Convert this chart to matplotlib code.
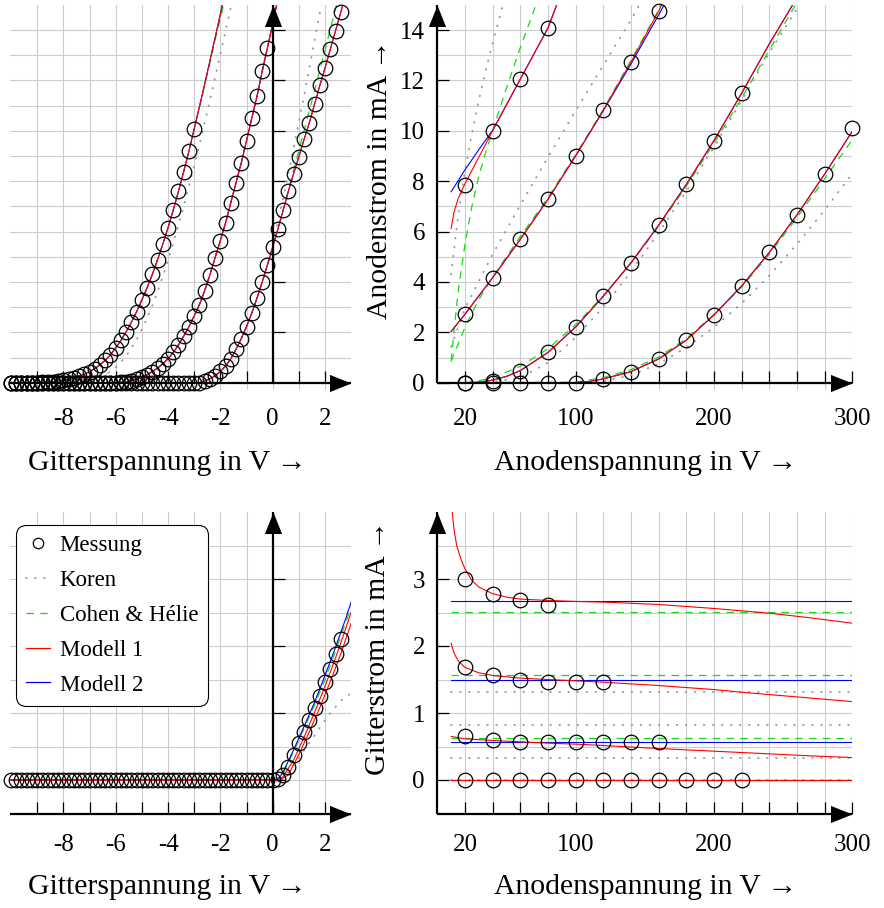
import numpy as np
import matplotlib
matplotlib.use("Agg")
import matplotlib.pyplot as plt
from matplotlib.path import Path
from matplotlib.lines import Line2D
from matplotlib.ticker import FixedLocator

plt.rcParams['font.family'] = ['Liberation Serif', 'DejaVu Serif']
plt.rcParams['axes.unicode_minus'] = False

# measurement steps
vg = np.round(np.arange(-10.0, 2.61, 0.2), 1)   # grid voltage, 64 steps
va = np.arange(20, 301, 20)                      # anode voltage, 15 steps

# ---- anode current over grid voltage (top left), three anode voltages
ia_vg1 = [0] * 6 + [0.01, 0.02, 0.04, 0.06, 0.09, 0.13, 0.19, 0.26, 0.34, 0.44,
                    0.56, 0.71, 0.89, 1.11, 1.38, 1.68, 2.02, 2.40, 2.82, 3.28,
                    3.77, 4.30, 4.88, 5.50, 6.15, 6.85, 7.60, 8.38, 9.20, 10.07]
ia_vg2 = [0] * 21 + [0.02, 0.04, 0.08, 0.14, 0.22, 0.32, 0.44, 0.58, 0.75, 0.95,
                     1.20, 1.50, 1.85, 2.23, 2.65, 3.10, 3.65, 4.28, 4.97, 5.64,
                     6.35, 7.15, 7.94, 8.73, 9.61, 10.50, 11.37, 12.37, 13.30]
ia_vg3 = [0] * 37 + [0.07, 0.16, 0.27, 0.45, 0.66, 0.95, 1.33, 1.75, 2.23, 2.76,
                     3.36, 4.00, 4.68, 5.38, 6.10, 6.85, 7.60, 8.30, 8.97, 9.66,
                     10.32, 11.06, 11.80, 12.50, 13.23, 13.97, 14.70]

# model curves beyond the last measured point
m1_tl1_ext_v, m1_tl1_ext_i = [-2.6, -2.2, -1.9], [11.85, 13.7, 15.1]
m1_tl2_ext_v, m1_tl2_ext_i = [0.0, 0.16], [14.25, 15.05]
m1_tl3_ext_v, m1_tl3_ext_i = [2.7], [15.07]
ch_tl1_ext_v, ch_tl1_ext_i = [-2.6, -2.2, -1.85], [11.8, 13.6, 15.1]
ch_tl3_ext_v = [0.8, 1.2, 1.6, 2.0, 2.4, 2.45]
ch_tl3_ext_i = [8.45, 10.0, 11.6, 13.2, 14.85, 15.05]
ko_tl1_v = [-10, -7.8, -7.2, -6.8, -6.4, -6.0, -5.6, -5.2, -4.8, -4.4, -4.0,
            -3.6, -3.2, -2.8, -2.4, -2.0, -1.6, -1.55]
ko_tl1_i = [0, 0, 0.05, 0.13, 0.3, 0.6, 1.05, 1.7, 2.55, 3.6, 4.85,
            6.25, 7.8, 9.45, 11.2, 13.05, 14.9, 15.1]
ko_tl3_ext_v = [0.0, 0.4, 0.8, 1.2, 1.6, 1.87]
ko_tl3_ext_i = [5.5, 7.3, 9.3, 11.4, 13.6, 15.05]

# ---- anode current over anode voltage (top right), four grid voltages
ia_a = [7.85, 10.0, 12.05, 14.1]
ia_b = [2.71, 4.17, 5.69, 7.28, 9.01, 10.82, 12.73, 14.75]
ia_c = [0.0, 0.08, 0.48, 1.2, 2.21, 3.43, 4.76, 6.25, 7.87, 9.61, 11.49]
ia_d = [0, 0, 0, 0, 0, 0.15, 0.44, 0.94, 1.69, 2.69, 3.84, 5.17, 6.66, 8.28, 10.1]

m1_a_v = [10, 12, 15, 20, 30, 40, 60, 80, 87]
m1_a_i = [6.13, 6.75, 7.3, 7.9, 8.95, 10.0, 12.05, 14.08, 15.1]
m2_a_v = [10, 20, 30, 40, 60, 80, 87]
m2_a_i = [7.58, 8.45, 9.25, 10.02, 12.05, 14.08, 15.1]
ch_a_v = [10, 12, 15, 20, 25, 30, 35, 40, 50, 60, 72]
ch_a_i = [0.87, 2.0, 3.6, 5.5, 7.0, 8.2, 9.15, 10.0, 11.7, 13.3, 15.1]
ko_a_v = [10, 15, 20, 25, 30, 35, 40, 45, 48]
ko_a_i = [4.3, 6.6, 8.4, 9.9, 11.2, 12.4, 13.5, 14.5, 15.1]

m1_b_v = [10, 20, 40, 60, 80, 100, 120, 140, 160, 163]
m1_b_i = [2.03, 2.72, 4.17, 5.69, 7.28, 9.01, 10.82, 12.73, 14.75, 15.08]
m2_b_v = [10, 20, 40, 60, 80, 100, 120, 140, 160, 165]
m2_b_i = [2.03, 2.72, 4.17, 5.69, 7.28, 9.0, 10.8, 12.65, 14.6, 15.1]
ch_b_v = [10, 20, 30, 40, 60, 80, 100, 120, 140, 160, 162]
ch_b_i = [0.85, 2.2, 3.3, 4.2, 5.8, 7.35, 9.05, 10.85, 12.8, 14.8, 15.05]
ko_b_v = [10, 20, 40, 60, 80, 100, 120, 140, 146]
ko_b_i = [1.43, 2.95, 5.1, 7.05, 8.95, 10.8, 12.6, 14.4, 15.0]

m1_c_v = [10, 20, 30, 40, 50, 60, 80, 100, 120, 140, 160, 180, 200, 220, 240, 258]
m1_c_i = [0, 0, 0.02, 0.1, 0.25, 0.48, 1.2, 2.21, 3.43, 4.76, 6.25, 7.87, 9.61, 11.49, 13.45, 15.1]
ch_c_v = [10, 25, 40, 60, 80, 100, 120, 140, 160, 180, 200, 220, 240, 260]
ch_c_i = [0, 0.02, 0.2, 0.65, 1.35, 2.3, 3.45, 4.75, 6.2, 7.8, 9.5, 11.3, 13.2, 15.1]
ko_c_v = [10, 40, 60, 80, 100, 120, 140, 160, 180, 200, 220, 240, 263]
ko_c_i = [0, 0.02, 0.2, 0.8, 1.8, 3.0, 4.4, 5.95, 7.6, 9.35, 11.2, 13.1, 15.1]

m1_d_v = [10, 100, 110, 120, 140, 160, 180, 200, 220, 240, 260, 280, 300]
m1_d_i = [0, 0, 0.05, 0.15, 0.44, 0.94, 1.69, 2.69, 3.84, 5.17, 6.66, 8.28, 9.98]
ch_d_v = [10, 100, 120, 140, 160, 180, 200, 220, 240, 260, 280, 300]
ch_d_i = [0, 0.02, 0.2, 0.52, 1.02, 1.75, 2.7, 3.8, 5.1, 6.55, 8.1, 9.65]
ko_d_v = [10, 100, 120, 140, 160, 180, 200, 220, 240, 260, 280, 300]
ko_d_i = [0, 0, 0.05, 0.3, 0.75, 1.4, 2.2, 3.15, 4.25, 5.5, 6.85, 8.3]

# ---- grid current over grid voltage (bottom left)
ig_vg = [0] * 51 + [0.02, 0.07, 0.2, 0.38, 0.55, 0.72, 0.9, 1.07, 1.26, 1.46, 1.66, 1.88, 2.1]
m2_bl_v = [-10, 0.2, 0.4, 0.8, 1.2, 1.6, 2.0, 2.4, 2.8, 3.0]
m2_bl_i = [0, 0, 0.12, 0.45, 0.8, 1.16, 1.56, 1.98, 2.42, 2.66]
ch_bl_v = [-10, 0.0, 0.2, 0.4, 0.8, 1.2, 1.6, 2.0, 2.4, 2.8, 3.0]
ch_bl_i = [0, 0, 0.03, 0.1, 0.42, 0.77, 1.12, 1.5, 1.92, 2.36, 2.59]
m1_bl1_v = [-10, 0.2, 0.4, 0.8, 1.2, 1.6, 2.0, 2.4, 2.8, 3.0]
m1_bl1_i = [0, 0, 0.05, 0.3, 0.64, 1.01, 1.4, 1.82, 2.27, 2.51]
m1_bl2_v = [-10, 0.3, 0.6, 1.0, 1.4, 1.8, 2.2, 2.6, 3.0]
m1_bl2_i = [0, 0, 0.08, 0.38, 0.72, 1.08, 1.47, 1.88, 2.34]
ko_bl_v = [-10, 0.3, 0.6, 1.0, 1.4, 1.8, 2.2, 2.6, 3.0]
ko_bl_i = [0, 0, 0.12, 0.33, 0.55, 0.78, 1.0, 1.18, 1.3]

# ---- grid current over anode voltage (bottom right)
ig_a = [3.0, 2.78, 2.68, 2.61]
ig_b = [1.69, 1.56, 1.49, 1.47, 1.46, 1.46]
ig_c = [0.66, 0.6, 0.57, 0.56, 0.56, 0.56, 0.56, 0.56]
ig_d = [0] * 11
m1_ga_v = [10.3, 12, 14, 17, 20, 25, 30, 40, 50, 60, 80, 100, 120, 160, 200, 240, 270, 300]
m1_ga_i = [4.1, 3.75, 3.5, 3.3, 3.15, 2.98, 2.88, 2.78, 2.73, 2.7, 2.68, 2.665, 2.655,
           2.62, 2.56, 2.49, 2.42, 2.34]
m1_gb_v = [10, 12, 15, 20, 30, 40, 60, 80, 100, 120, 160, 200, 220, 260, 300]
m1_gb_i = [2.04, 1.9, 1.78, 1.68, 1.6, 1.56, 1.52, 1.5, 1.48, 1.46, 1.41, 1.35, 1.31, 1.24, 1.17]
m1_gc_v = [10, 20, 40, 60, 80, 100, 120, 160, 200, 240, 270, 300]
m1_gc_i = [0.65, 0.615, 0.59, 0.57, 0.55, 0.535, 0.515, 0.47, 0.43, 0.39, 0.36, 0.335]
m2_levels = [2.67, 1.5, 0.56, 0.0]
ch_levels = [2.51, 1.565, 0.62, 0.0]
ko_levels = [1.32, 0.82, 0.33, 0.0]
va_line = [10, 300]

RED, BLUE, GREEN, GRAY = '#ff0000', '#0000ff', '#11dd11', '#999999'
red_kw = dict(color=RED, lw=0.8, zorder=2.4)
blue_kw = dict(color=BLUE, lw=0.8, zorder=2.3)
green_kw = dict(color=GREEN, lw=0.9, dashes=(6, 5), zorder=2.2)
gray_kw = dict(color=GRAY, lw=1.3, dashes=(0.4, 4.6), dash_capstyle='round', zorder=2.1)
circ_kw = dict(ls='none', marker='o', ms=10.5, mfc='none', mec='k', mew=0.9,
               clip_on=False, zorder=2.6)

ARROW_R = Path([(0, 0), (-1, 0.4), (-1, -0.4), (0, 0)],
               [Path.MOVETO, Path.LINETO, Path.LINETO, Path.CLOSEPOLY])
ARROW_U = Path([(0, 0), (-0.4, -1), (0.4, -1), (0, 0)],
               [Path.MOVETO, Path.LINETO, Path.LINETO, Path.CLOSEPOLY])

W, H = 884, 908
fig = plt.figure(figsize=(W / 100, H / 100), dpi=100)


def add_axes(left, top, right, bottom):
    return fig.add_axes([left / W, 1 - bottom / H, (right - left) / W, (bottom - top) / H])


def style(ax, xlim, ylim, x0, y0, xmajor, xminor, ymajor, yminor, xpad):
    ax.set_xlim(*xlim)
    ax.set_ylim(*ylim)
    for s in ('top', 'right'):
        ax.spines[s].set_visible(False)
    ax.spines['left'].set_position(('data', x0))
    ax.spines['bottom'].set_position(('data', y0))
    ax.spines['left'].set_bounds(y0, ylim[1])
    for s in ('left', 'bottom'):
        ax.spines[s].set_linewidth(1.6)
        ax.spines[s].set_capstyle('butt')
    ax.xaxis.set_major_locator(FixedLocator(xmajor))
    ax.xaxis.set_minor_locator(FixedLocator(xminor))
    ax.yaxis.set_major_locator(FixedLocator(ymajor))
    ax.yaxis.set_minor_locator(FixedLocator(yminor))
    ax.grid(which='both', color='#cccccc', lw=0.8)
    ax.set_axisbelow(True)
    ax.tick_params(which='both', direction='in', length=8.5, width=0.9, color='k',
                   labelsize=18)
    ax.tick_params(axis='y', which='minor', length=0)
    ax.tick_params(axis='x', pad=xpad)
    ax.tick_params(axis='y', pad=8.9)
    ax.plot([xlim[1]], [y0], marker=ARROW_R, ms=31, color='k', mew=0, clip_on=False, zorder=5)
    ax.plot([x0], [ylim[1]], marker=ARROW_U, ms=31, color='k', mew=0, clip_on=False, zorder=5)


# pixel scales
vg_px = lambda v: 272.7 + 26.17 * v
va_px = lambda v: 437.3 + 1.3833 * v
top_px = lambda i: 382.7 - 25.19 * i
bot_px = lambda i: 780.0 - 67.0 * i

ax_tl = add_axes(vg_px(-10.05), top_px(15.0), vg_px(3.0), top_px(-0.3))
ax_tr = add_axes(va_px(0), top_px(15.0), va_px(300), top_px(-0.3))
ax_bl = add_axes(vg_px(-10.05), bot_px(4.0), vg_px(3.0), bot_px(-0.5))
ax_br = add_axes(va_px(0), bot_px(4.0), va_px(300), bot_px(-0.5))

vg_major = [-8, -6, -4, -2, 0, 2]
vg_minor = [-9, -7, -5, -3, -1, 1]
va_major = [20, 100, 200, 300]
va_minor = list(range(40, 300, 20))

style(ax_tl, (-10.05, 3.0), (-0.3, 15.0), 0, 0, vg_major, vg_minor,
      list(range(2, 15, 2)), list(range(1, 14, 2)), 18.2)
style(ax_tr, (0, 300), (-0.3, 15.0), 0, 0, va_major, va_minor,
      list(range(0, 15, 2)), list(range(1, 14, 2)), 18.2)
style(ax_bl, (-10.05, 3.0), (-0.5, 4.0), 0, -0.5, vg_major, vg_minor,
      [0, 1, 2, 3], [0.5, 1.5, 2.5, 3.5], 15.0)
style(ax_br, (0, 300), (-0.5, 4.0), 0, -0.5, va_major, va_minor,
      [0, 1, 2, 3], [0.5, 1.5, 2.5, 3.5], 15.0)
ax_tl.tick_params(axis='y', labelleft=False)
ax_bl.tick_params(axis='y', labelleft=False)

# ---- top left
curves = [(36, ia_vg1, m1_tl1_ext_v, m1_tl1_ext_i),
          (50, ia_vg2, m1_tl2_ext_v, m1_tl2_ext_i),
          (64, ia_vg3, m1_tl3_ext_v, m1_tl3_ext_i)]
for n, ia, ev, ei in curves:
    v = np.r_[vg[:n], ev]
    i = np.r_[ia, ei]
    ax_tl.plot(v, i, **blue_kw)
    ax_tl.plot(v, i, **red_kw)
ax_tl.plot(np.r_[vg[:36], ch_tl1_ext_v], np.r_[ia_vg1, ch_tl1_ext_i], **green_kw)
ax_tl.plot(np.r_[vg[:50], m1_tl2_ext_v], np.r_[ia_vg2, m1_tl2_ext_i], **green_kw)
ax_tl.plot(np.r_[vg[:53], ch_tl3_ext_v], np.r_[ia_vg3[:53], ch_tl3_ext_i], **green_kw)
ax_tl.plot(ko_tl1_v, ko_tl1_i, **gray_kw)
ax_tl.plot(np.r_[vg[:50], m1_tl2_ext_v], np.r_[ia_vg2, m1_tl2_ext_i], **gray_kw)
ax_tl.plot(np.r_[vg[:50], ko_tl3_ext_v], np.r_[ia_vg3[:50], ko_tl3_ext_i], **gray_kw)
ax_tl.plot(vg[:36], ia_vg1, **circ_kw)
ax_tl.plot(vg[:50], ia_vg2, **circ_kw)
ax_tl.plot(vg, ia_vg3, **circ_kw)

# ---- top right
for v, i in [(ko_a_v, ko_a_i), (ko_b_v, ko_b_i), (ko_c_v, ko_c_i), (ko_d_v, ko_d_i)]:
    ax_tr.plot(v, i, **gray_kw)
for v, i in [(ch_a_v, ch_a_i), (ch_b_v, ch_b_i), (ch_c_v, ch_c_i), (ch_d_v, ch_d_i)]:
    ax_tr.plot(v, i, **green_kw)
for v, i in [(m2_a_v, m2_a_i), (m2_b_v, m2_b_i), (m1_c_v, m1_c_i), (m1_d_v, m1_d_i)]:
    ax_tr.plot(v, i, **blue_kw)
for v, i in [(m1_a_v, m1_a_i), (m1_b_v, m1_b_i), (m1_c_v, m1_c_i), (m1_d_v, m1_d_i)]:
    ax_tr.plot(v, i, **red_kw)
for ia in (ia_a, ia_b, ia_c, ia_d):
    ax_tr.plot(va[:len(ia)], ia, **circ_kw)

# ---- bottom left
ax_bl.plot(ko_bl_v, ko_bl_i, **gray_kw)
ax_bl.plot(ch_bl_v, ch_bl_i, **green_kw)
ax_bl.plot(m1_bl1_v, m1_bl1_i, **red_kw)
ax_bl.plot(m1_bl2_v, m1_bl2_i, **red_kw)
ax_bl.plot(m2_bl_v, m2_bl_i, **blue_kw)
ax_bl.plot(vg, ig_vg, **circ_kw)

# ---- bottom right
for lvl in ko_levels:
    ax_br.plot(va_line, [lvl, lvl], **gray_kw)
for lvl in ch_levels:
    ax_br.plot(va_line, [lvl, lvl], **green_kw)
for lvl in m2_levels:
    ax_br.plot(va_line, [lvl, lvl], **blue_kw)
for v, i in [(m1_ga_v, m1_ga_i), (m1_gb_v, m1_gb_i), (m1_gc_v, m1_gc_i)]:
    ax_br.plot(v, i, **red_kw)
ax_br.plot(va_line, [0, 0], **red_kw)
for ig in (ig_a, ig_b, ig_c, ig_d):
    ax_br.plot(va[:len(ig)], ig, **circ_kw)

# ---- labels
lab_fs = 21.3
for ax, y in ((ax_tl, -0.1886), (ax_bl, -0.2438)):
    ax.set_xlabel('Gitterspannung in V →', fontsize=lab_fs, va='center')
    ax.xaxis.set_label_coords(0.462, y)
for ax, y in ((ax_tr, -0.1886), (ax_br, -0.2438)):
    ax.set_xlabel('Anodenspannung in V →', fontsize=lab_fs, va='center')
    ax.xaxis.set_label_coords(0.5017, y)
ax_tr.set_ylabel('Anodenstrom in mA →', fontsize=lab_fs, va='center')
ax_tr.yaxis.set_label_coords(-0.138, 0.548)
ax_br.set_ylabel('Gitterstrom in mA →', fontsize=lab_fs, va='center')
ax_br.yaxis.set_label_coords(-0.143, 0.552)

# ---- legend
handles = [Line2D([], [], ls='none', marker='o', ms=7.5, mfc='none', mec='k', mew=0.9),
           Line2D([], [], color=GRAY, lw=1.3, dashes=(0.4, 4.6), dash_capstyle='round'),
           Line2D([], [], color=GREEN, lw=0.9, dashes=(6, 5)),
           Line2D([], [], color=RED, lw=0.9),
           Line2D([], [], color=BLUE, lw=0.9)]
labels = ['Messung', 'Koren', 'Cohen & Hélie', 'Modell 1', 'Modell 2']
leg = ax_bl.legend(handles, labels, loc='upper left', bbox_to_anchor=(16 / W, 1 - 525 / H),
                   bbox_transform=fig.transFigure, fontsize=16.5, frameon=True,
                   fancybox=True, framealpha=1, edgecolor='k', borderpad=0.45,
                   labelspacing=0.6, handlelength=1.05, handletextpad=0.4,
                   borderaxespad=0)
leg.get_frame().set_linewidth(0.8)
leg.get_frame().set_boxstyle('round', pad=0, rounding_size=0.45)

fig.savefig('out.png', dpi=100)
